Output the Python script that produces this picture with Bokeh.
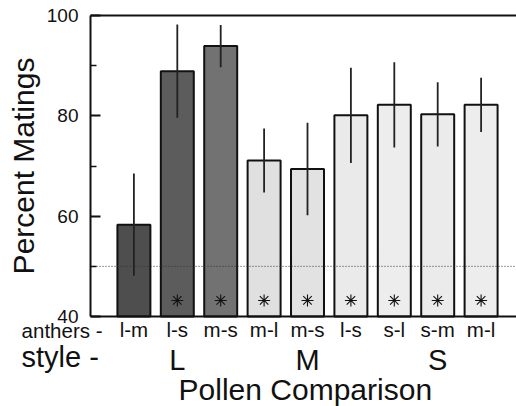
from bokeh.plotting import figure
from bokeh.models import Range1d, FixedTicker, Label, ColumnDataSource, LinearAxis
from bokeh.core.properties import value
from bokeh.embed import file_html
from bokeh.resources import INLINE

# ---- data ----
anthers = ["l-m", "l-s", "m-s", "m-l", "m-s", "l-s", "s-l", "s-m", "m-l"]
styles = ["L", "M", "S"]
style_pos = [2, 5, 8]
pct = [58.3, 88.9, 93.9, 71.1, 69.4, 80.1, 82.2, 80.3, 82.2]
err = [10.2, 9.3, 4.2, 6.4, 9.2, 9.5, 8.5, 6.4, 5.4]
significant = [False, True, True, True, True, True, True, True, True]
y_ticks = [40, 60, 80, 100]
y_minor = [50, 70, 90]
chance = 50

FONT = "Liberation Sans"
INK = "#111111"

W, H = 516, 406
# frame fills the canvas; axes are drawn at fixed data locations inside it
px_x = 43.4            # pixels per category
x0_px = 90             # pixel column of the y axis
y_top_px, y_bot_px = 15, 316
px_y = (y_bot_px - y_top_px) / (y_ticks[-1] - y_ticks[0])
x_start = -x0_px / px_x
x_end = (W - x0_px) / px_x
y_end = y_ticks[-1] + y_top_px / px_y
y_start = y_ticks[-1] - (H - y_top_px) / px_y

x = list(range(1, len(pct) + 1))
fills = ["#4e4e4e", "#5c5c5c", "#727272", "#e0e0e0", "#e2e2e2",
         "#eaeaea", "#ededed", "#ebebeb", "#ededed"]

src = ColumnDataSource(dict(
    x=x, top=pct,
    lo=[v - e for v, e in zip(pct, err)],
    hi=[v + e for v, e in zip(pct, err)],
    fill=fills,
))

p = figure(width=W, height=H, output_backend="svg", toolbar_location=None,
           title=None,
           x_range=Range1d(x_start, x_end), y_range=Range1d(y_start, y_end),
           min_border=0, min_border_left=0, min_border_right=0,
           min_border_top=0, min_border_bottom=0)
p.outline_line_color = None
p.grid.visible = False
p.background_fill_color = "white"
p.border_fill_color = "white"

p.vbar(x="x", top="top", bottom=y_ticks[0], width=0.76, fill_color="fill",
       line_color=INK, line_width=2, source=src)
p.segment(x0="x", y0="lo", x1="x", y1="hi", line_color="#222222",
          line_width=1.8, source=src)

sx = [xi for xi, s in zip(x, significant) if s]
star_y = 43.2
p.scatter(x=sx, y=[star_y] * len(sx), marker="asterisk", size=12,
          line_color=INK, line_width=1.1)

# chance level (dotted)
p.line(x=[0, x_end], y=[chance, chance], line_color="#333333", line_width=1,
       line_dash="1 2")

# y axis
ya = p.yaxis[0]
ya.fixed_location = 0
ya.bounds = (y_ticks[0], y_ticks[-1])
ya.ticker = FixedTicker(ticks=y_ticks, minor_ticks=y_minor)
ya.major_tick_in = 10
ya.major_tick_out = 0
ya.minor_tick_in = 6
ya.minor_tick_out = 0
ya.axis_line_width = 2
ya.axis_line_color = INK
ya.major_tick_line_width = 2
ya.major_tick_line_color = INK
ya.minor_tick_line_width = 1.5
ya.minor_tick_line_color = INK
ya.major_label_text_font = FONT
ya.major_label_text_font_size = "19px"
ya.major_label_text_color = INK
ya.major_label_standoff = 12
ya.axis_label = "Percent Matings"
ya.axis_label_text_font = FONT
ya.axis_label_text_font_size = "30px"
ya.axis_label_text_font_style = "normal"
ya.axis_label_text_color = INK
ya.axis_label_standoff = 4

# x axis
xa = p.xaxis[0]
xa.fixed_location = y_ticks[0]
xa.bounds = (0, x_end)
xa.ticker = FixedTicker(ticks=x, minor_ticks=[])
xa.major_label_overrides = {xi: a for xi, a in zip(x, anthers)}
xa.major_tick_in = 0
xa.major_tick_out = 0
xa.minor_tick_in = 0
xa.minor_tick_out = 0
xa.axis_line_width = 2
xa.axis_line_color = INK
xa.major_label_text_font = FONT
xa.major_label_text_font_size = "20.5px"
xa.major_label_text_color = INK
xa.major_label_standoff = 1

# top frame line
top = LinearAxis(fixed_location=y_ticks[-1], bounds=(0, x_end),
                 ticker=FixedTicker(ticks=[], minor_ticks=[]),
                 axis_line_width=2, axis_line_color=INK,
                 major_tick_in=0, major_tick_out=0,
                 minor_tick_in=0, minor_tick_out=0,
                 major_label_text_alpha=0)
p.add_layout(top, "above")

p.add_layout(Label(x=0.276, y=37.2, text="anthers -", text_align="right",
                   text_baseline="alphabetic", text_font=FONT,
                   text_font_size="20.5px", text_color=INK))
p.add_layout(Label(x=-1.59, y=32.0, text="style -", text_align="left",
                   text_baseline="alphabetic", text_font=FONT,
                   text_font_size="29px", text_color=INK))
p.text(x=style_pos, y=[31.25] * len(styles), text=styles, text_align="center",
       text_baseline="alphabetic", text_font=value(FONT),
       text_font_size="29px", text_color=INK)
p.add_layout(Label(x=4.95, y=25.5, text="Pollen Comparison", text_align="center",
                   text_baseline="alphabetic", text_font=FONT,
                   text_font_size="30px", text_color=INK))

open("out.html", "w").write(file_html(p, INLINE))
